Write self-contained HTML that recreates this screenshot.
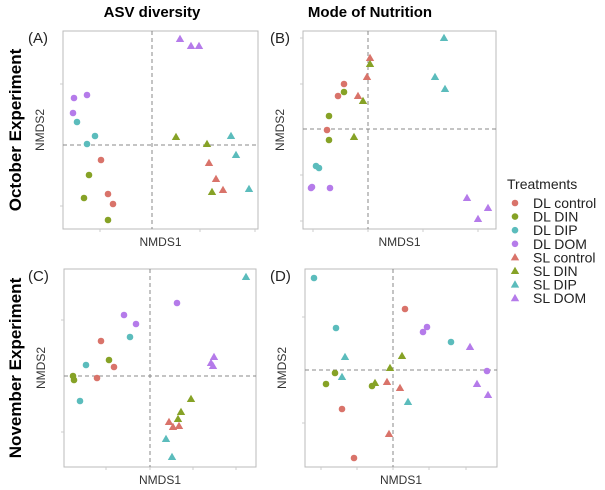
<!DOCTYPE html>
<html><head><meta charset="utf-8"><style>
body{margin:0;background:#fff;}
svg{display:block;font-family:"Liberation Sans",Arial,sans-serif;}
</style></head><body>
<svg id="chart" width="605" height="490" viewBox="0 0 605 490">
<g id="layer"></g>
<text x="152" y="17" text-anchor="middle" font-size="15" font-weight="bold">ASV diversity</text>
<text x="370" y="17" text-anchor="middle" font-size="15" font-weight="bold">Mode of Nutrition</text>
<text transform="translate(21,130) rotate(-90)" text-anchor="middle" font-size="17" font-weight="bold">October Experiment</text>
<text transform="translate(21,368) rotate(-90)" text-anchor="middle" font-size="17" font-weight="bold">November Experiment</text>
<text x="507" y="189" font-size="14" fill="#222">Treatments</text>
<g id="legend"></g>
</svg>
<script>
const categories=["DL control","DL DIN","DL DIP","DL DOM","SL control","SL DIN","SL DIP","SL DOM"];
const colors=["#d9736a","#86a226","#5bbcbc","#b57bea","#d9736a","#86a226","#5bbcbc","#b57bea"];
// NMDS coordinates per panel: [groupIndex, NMDS1, NMDS2]
const panelA=[[3,-0.78,0.47],[3,-0.65,0.50],[3,-0.79,0.32],[2,-0.75,0.23],[2,-0.57,0.09],[2,-0.65,0.01],
[0,-0.51,-0.15],[0,-0.44,-0.49],[0,-0.39,-0.59],[1,-0.63,-0.30],[1,-0.68,-0.53],[1,-0.44,-0.75],
[7,0.28,1.06],[7,0.39,0.99],[7,0.47,0.99],[5,0.24,0.08],[5,0.55,0.01],[5,0.60,-0.47],
[6,0.79,0.09],[6,0.84,-0.10],[6,0.97,-0.44],[4,0.57,-0.18],[4,0.64,-0.34],[4,0.71,-0.45]];
const panelB=[[0,-0.24,0.45],[0,-0.30,0.33],[0,-0.41,-0.01],[1,-0.24,0.37],[1,-0.39,0.13],[1,-0.39,-0.11],
[2,-0.52,-0.37],[2,-0.49,-0.39],[3,-0.57,-0.59],[3,-0.56,-0.58],[3,-0.38,-0.59],
[4,0.02,0.71],[4,-0.01,0.52],[4,-0.10,0.33],[5,0.02,0.65],[5,-0.05,0.28],[5,-0.14,-0.08],
[6,0.76,0.91],[6,0.67,0.52],[6,0.77,0.40],[7,0.99,-0.69],[7,1.20,-0.79],[7,1.10,-0.90]];
const panelC=[[3,0.27,0.73],[3,-0.26,0.61],[3,-0.14,0.52],[2,-0.20,0.39],[2,-0.64,0.11],[2,-0.70,-0.25],
[0,-0.49,0.35],[0,-0.36,0.09],[0,-0.53,-0.02],[1,-0.41,0.16],[1,-0.77,0.00],[1,-0.76,-0.04],
[6,0.96,0.99],[6,0.16,-0.63],[6,0.22,-0.81],[7,0.64,0.19],[7,0.61,0.13],[7,0.63,0.10],
[5,0.41,-0.23],[5,0.31,-0.36],[5,0.28,-0.43],[4,0.19,-0.46],[4,0.23,-0.51],[4,0.29,-0.50]];
const panelD=[[2,-0.79,0.92],[2,-0.57,0.42],[2,0.58,0.28],[0,0.12,0.61],[0,-0.51,-0.39],[0,-0.39,-0.88],
[3,0.30,0.38],[3,0.34,0.43],[3,0.94,-0.01],[1,-0.58,-0.03],[1,-0.67,-0.14],[1,-0.21,-0.16],
[6,-0.48,0.13],[6,-0.51,-0.07],[6,0.15,-0.32],[5,0.09,0.14],[5,-0.03,0.02],[5,-0.18,-0.13],
[4,-0.06,-0.12],[4,0.07,-0.18],[4,-0.04,-0.64],[7,0.77,0.23],[7,0.84,-0.14],[7,0.95,-0.25]];
const ns="http://www.w3.org/2000/svg";
const layer=document.getElementById('layer');
function mk(tag,attrs,parent){const e=document.createElementNS(ns,tag);for(const k in attrs)e.setAttribute(k,attrs[k]);(parent||layer).appendChild(e);return e;}
function marker(g,cx,cy,grp,parent){
  if(grp<4){return mk('circle',{cx:cx,cy:cy,r:3.3,fill:colors[grp]},parent);}
  return mk('polygon',{points:`${cx},${cy-4.3} ${cx+4.2},${cy+3} ${cx-4.2},${cy+3}`,fill:colors[grp]},parent);
}
const panels=[
 {data:panelA,l:63,r:258,t:31,b:229,v:152,h:145,label:"(A)",lx:28,name:"panel-a",xt:[100,200,255],yt:[84,206]},
 {data:panelB,l:303,r:496,t:31,b:229,v:368,h:129,label:"(B)",lx:270,name:"panel-b",xt:[313,368,423,478],yt:[38,84,175,221]},
 {data:panelC,l:64,r:256,t:269,b:467,v:150,h:376,label:"(C)",lx:28,name:"panel-c",xt:[106,150,193,236],yt:[320,432]},
 {data:panelD,l:305,r:497,t:269,b:467,v:393,h:370,label:"(D)",lx:270,name:"panel-d",xt:[321,357,393,429,466],yt:[317,423]}
];
const S=100;
panels.forEach(p=>{
  const g=mk('g',{});
  
  
  const sx=x=>p.v+x*S, sy=y=>p.h-y*S;
  mk('rect',{x:p.l,y:p.t,width:p.r-p.l,height:p.b-p.t,fill:'#fff',stroke:'#bbb','stroke-width':1},g);
  p.xt.forEach(x=>mk('line',{x1:x,x2:x,y1:p.b,y2:p.b+3,stroke:'#ccc'},g));
  p.yt.forEach(y=>mk('line',{x1:p.l-3,x2:p.l,y1:y,y2:y,stroke:'#ccc'},g));
  mk('line',{x1:p.v,x2:p.v,y1:p.t,y2:p.b,stroke:'#888','stroke-dasharray':'4,3'},g);
  mk('line',{x1:p.l,x2:p.r,y1:p.h,y2:p.h,stroke:'#888','stroke-dasharray':'4,3'},g);
  p.data.forEach(d=>{
    const m=marker(g,sx(d[1]),sy(d[2]),d[0],g);
    
    
  });
  const lab=mk('text',{x:p.lx,y:p.t+12,'font-size':15,fill:'#222'},g);lab.textContent=p.label;
  
  
  const xl=mk('text',{x:(p.l+p.r)/2,y:p.b+17,'text-anchor':'middle','font-size':12,fill:'#333'},g);xl.textContent="NMDS1";
  
  
  const yx=p.l-19, yy=(p.t+p.b)/2;
  const yl=mk('text',{transform:`translate(${yx},${yy}) rotate(-90)`,'text-anchor':'middle','font-size':12,fill:'#333'},g);yl.textContent="NMDS2";
  
  
});
const leg=document.getElementById('legend');
categories.forEach((c,i)=>{
  const y=203+i*13.6;
  const m=marker(null,515,y,i,leg);
  
  
  const t=mk('text',{x:533,y:y+5,'font-size':14,fill:'#222'},leg);t.textContent=c;
  
  
});
</script>
</body></html>
